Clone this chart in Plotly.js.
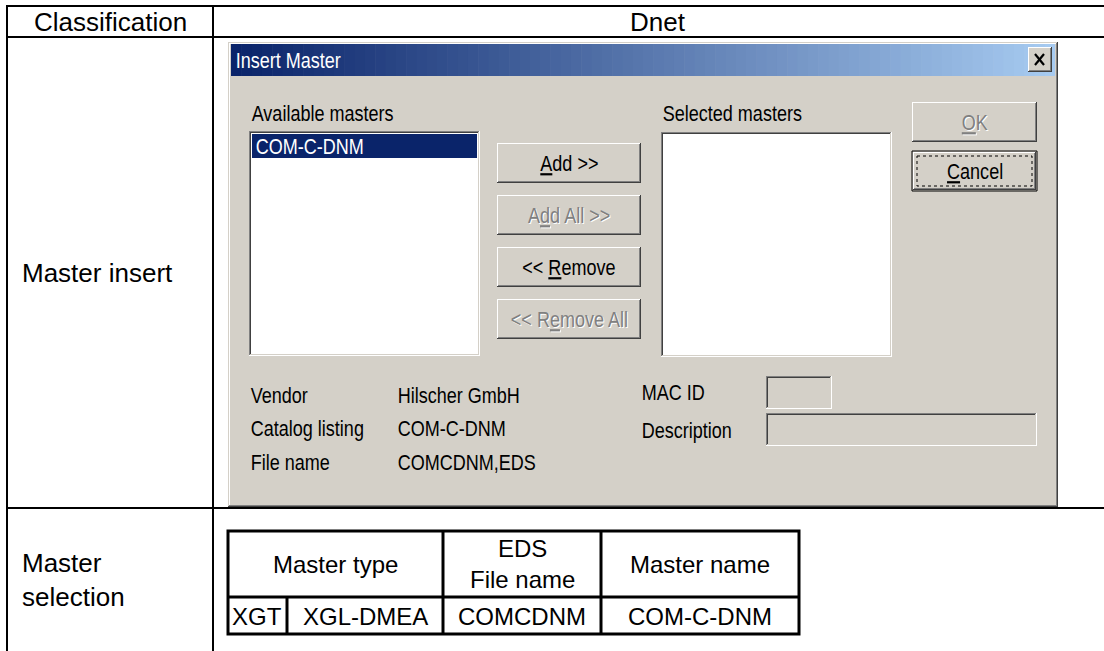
<!DOCTYPE html>
<html><head><meta charset="utf-8">
<script src="https://cdn.plot.ly/plotly-3.0.1.min.js"></script>
<style>html,body{margin:0;padding:0;background:#fff;overflow:hidden}</style>
</head><body><div id="chart" style="width:1104px;height:651px"></div>
<script>
// ---- content ----
const headerLabels = ["Classification", "Dnet"];
const rowLabels = ["Master insert", "Master<br>selection"];
const dialogTitle = "Insert Master";
const listHeadings = ["Available masters", "Selected masters"];
const availableMasters = ["COM-C-DNM"];
const moveButtons = ["Add >>", "Add All >>", "<< Remove", "<< Remove All"];
const moveMnemonic = [0, 1, 3, 4];
const moveEnabled = [true, false, true, false];
const dialogButtons = ["OK", "Cancel"];
const dialogMnemonic = [0, 0];
const dialogEnabled = [false, true];
const infoLabels = ["Vendor", "Catalog listing", "File name"];
const infoValues = ["Hilscher GmbH", "COM-C-DNM", "COMCDNM,EDS"];
const fieldLabels = ["MAC ID", "Description"];
const tableHeaders = ["Master type", "EDS<br>File name", "Master name"];
const tableRow = ["XGT", "XGL-DMEA", "COMCDNM", "COM-C-DNM"];

// ---- helpers ----
const FACE = "#D4D0C8", DARK = "#404040", SHADOW = "#808080", LIGHT = "#FFFFFF";
const docFont = "Arial, 'Liberation Sans', sans-serif";
const dlgFont = "'Liberation Sans', Arial, sans-serif";
const NARROW = 0.82;
const shapes = [], annotations = [], narrowList = [];
function rect(x0, y0, x1, y1, fill, lc, lw) {
  shapes.push({type: "rect", xref: "x", yref: "y", x0, y0, x1, y1, fillcolor: fill,
    line: {color: lc || fill, width: lw === undefined ? 0 : lw}, layer: "above"});
}
function line(x0, y0, x1, y1, color, width, dash) {
  shapes.push({type: "line", xref: "x", yref: "y", x0, y0, x1, y1,
    line: {color, width: width || 1, dash: dash || "solid"}, layer: "above"});
}
function raised(x0, y0, x1, y1, fill) {
  rect(x0, y0, x1, y1, fill || FACE);
  line(x0, y0 + 0.5, x1 - 1, y0 + 0.5, LIGHT); line(x0 + 0.5, y0, x0 + 0.5, y1 - 1, LIGHT);
  line(x0, y1 - 0.5, x1, y1 - 0.5, DARK); line(x1 - 0.5, y0, x1 - 0.5, y1, DARK);
  line(x0 + 1, y1 - 1.5, x1 - 1, y1 - 1.5, SHADOW); line(x1 - 1.5, y0 + 1, x1 - 1.5, y1 - 1, SHADOW);
}
function sunken(x0, y0, x1, y1, fill) {
  rect(x0, y0, x1, y1, fill);
  line(x0, y0 + 0.5, x1, y0 + 0.5, SHADOW); line(x0 + 0.5, y0, x0 + 0.5, y1, SHADOW);
  line(x0 + 1, y0 + 1.5, x1 - 1, y0 + 1.5, DARK); line(x0 + 1.5, y0 + 1, x0 + 1.5, y1 - 1, DARK);
  line(x0, y1 - 0.5, x1, y1 - 0.5, LIGHT); line(x1 - 0.5, y0, x1 - 0.5, y1, LIGHT);
  line(x0 + 1, y1 - 1.5, x1 - 1, y1 - 1.5, FACE); line(x1 - 1.5, y0 + 1, x1 - 1.5, y1 - 1, FACE);
}
function esc(s) { return s.replace(/&/g, "&amp;").replace(/</g, "&lt;").replace(/>/g, "&gt;"); }
function mnem(s, i) {
  return esc(s.slice(0, i)) + '<span style="text-decoration:underline">' + esc(s[i]) + '</span>' + esc(s.slice(i + 1));
}
function text(t, x, y, opts) {
  opts = opts || {};
  const dialog = !opts.family;
  if (dialog) narrowList.push({idx: annotations.length, x});
  annotations.push({text: t, x, y, xref: "x", yref: "y", showarrow: false,
    xanchor: opts.xanchor || "left", yanchor: "middle", align: opts.align || "left",
    font: {family: opts.family || dlgFont, size: opts.size || 22, color: opts.color || "#000"}});
}
function btnText(t, x, y, enabled) {
  if (!enabled) text(t, x + 1, y + 1, {xanchor: "center", color: LIGHT, align: "center"});
  text(t, x, y, {xanchor: "center", color: enabled ? "#000" : SHADOW, align: "center"});
}

// ---- outer document table ----
line(6, 6, 1104, 6, "#000", 2);
line(6, 37, 1104, 37, "#000", 2);
line(6, 508, 1104, 508, "#000", 2);
line(7, 5, 7, 651, "#000", 2);
line(213, 5, 213, 651, "#000", 2);
const hdr = {family: docFont, size: 26};
text(headerLabels[0], 110, 22, Object.assign({xanchor: "center"}, hdr));
text(headerLabels[1], 658, 22, Object.assign({xanchor: "center"}, hdr));
text(rowLabels[0], 20, 273, hdr);
text(rowLabels[1], 20, 580, hdr);

// ---- dialog window ----
rect(228, 42, 1058, 507, FACE);
line(228, 42.5, 1058, 42.5, FACE); line(228.5, 42, 228.5, 507, FACE);
line(229, 43.5, 1057, 43.5, LIGHT); line(229.5, 43, 229.5, 506, LIGHT);
line(228, 506.5, 1058, 506.5, DARK); line(1057.5, 42, 1057.5, 507, DARK);
line(229, 505.5, 1057, 505.5, SHADOW); line(1056.5, 43, 1056.5, 506, SHADOW);
// title bar gradient
const c0 = [10, 36, 106], c1 = [166, 202, 240];
const gx0 = 231, gx1 = 1055, nStrips = 80;
for (let i = 0; i < nStrips; i++) {
  const f = i / (nStrips - 1);
  const c = c0.map((v, k) => Math.round(v + (c1[k] - v) * f));
  const xa = gx0 + (gx1 - gx0) * i / nStrips, xb = gx0 + (gx1 - gx0) * (i + 1) / nStrips + 0.6;
  rect(xa, 44, Math.min(xb, gx1), 76, "rgb(" + c.join(",") + ")");
}
text(dialogTitle, 234, 60, {color: LIGHT});
// close button
raised(1028, 47, 1052, 72);
line(1035, 54, 1044, 65, "#000", 2.2); line(1044, 54, 1035, 65, "#000", 2.2);

// list headings and boxes
text(listHeadings[0], 250, 113);
text(listHeadings[1], 661, 113);
sunken(249, 131, 480, 356, LIGHT);
sunken(661, 132, 892, 357, LIGHT);
rect(252, 134, 477, 158, "#0A246A");
text(availableMasters[0], 254, 146, {color: LIGHT});

// move buttons
const mvTop = [143, 195, 247, 299];
moveButtons.forEach((b, i) => {
  raised(497, mvTop[i], 641, mvTop[i] + 40);
  btnText(mnem(b, moveMnemonic[i]), 569, mvTop[i] + 20, moveEnabled[i]);
});
// OK / Cancel
const dbTop = [102, 151];
dialogButtons.forEach((b, i) => {
  const y0 = dbTop[i], y1 = y0 + 40;
  if (i === 1) {
    rect(912, y0, 1037, y1, FACE, "#000", 1);
    raised(913, y0 + 1, 1036, y1 - 1);
    rect(917, y0 + 5, 1032, y1 - 5, "rgba(0,0,0,0)", "#000", 1);
    shapes[shapes.length - 1].line.dash = "dot";
  } else {
    raised(912, y0, 1037, y1);
  }
  btnText(mnem(b, dialogMnemonic[i]), 974.5, y0 + 20, dialogEnabled[i]);
});

// info rows
const infoY = [395, 428, 462];
infoLabels.forEach((l, i) => {
  text(l, 249, infoY[i]);
  text(infoValues[i], 396, infoY[i]);
});
text(fieldLabels[0], 640, 392);
text(fieldLabels[1], 640, 430);
sunken(766, 376, 832, 409, FACE);
sunken(766, 413, 1037, 446, FACE);

// ---- inner selection table ----
const tFont = {family: docFont, size: 24};
rect(228, 531, 799, 634, "rgba(0,0,0,0)", "#000", 3);
line(228, 597, 799, 597, "#000", 3);
line(443, 531, 443, 634, "#000", 3);
line(601, 531, 601, 634, "#000", 3);
line(287, 597, 287, 634, "#000", 3);
text(tableHeaders[0], 335, 564, Object.assign({xanchor: "center", align: "center"}, tFont));
text(tableHeaders[1], 522, 564, Object.assign({xanchor: "center", align: "center"}, tFont));
text(tableHeaders[2], 700, 564, Object.assign({xanchor: "center", align: "center"}, tFont));
const rowX = [257, 365, 522, 700];
tableRow.forEach((t, i) => text(t, rowX[i], 616, Object.assign({xanchor: "center", align: "center"}, tFont)));

const layout = {
  width: 1104, height: 651, margin: {l: 0, r: 0, t: 0, b: 0, pad: 0},
  paper_bgcolor: "#fff", plot_bgcolor: "#fff", showlegend: false,
  xaxis: {range: [0, 1104], visible: false, fixedrange: true},
  yaxis: {range: [651, 0], visible: false, fixedrange: true},
  shapes, annotations
};
Plotly.newPlot("chart", [], layout, {staticPlot: true, displayModeBar: false}).then(gd => {
  // dialog uses a narrow system face: compress those labels horizontally about their anchor
  const nodes = gd.querySelectorAll("g.annotation");
  narrowList.forEach(n => {
    const node = Array.from(nodes).find(g => +g.getAttribute("data-index") === n.idx);
    if (node) node.setAttribute("transform",
      "translate(" + n.x + ",0) scale(" + NARROW + ",1) translate(" + (-n.x) + ",0)");
  });
});
</script></body></html>
